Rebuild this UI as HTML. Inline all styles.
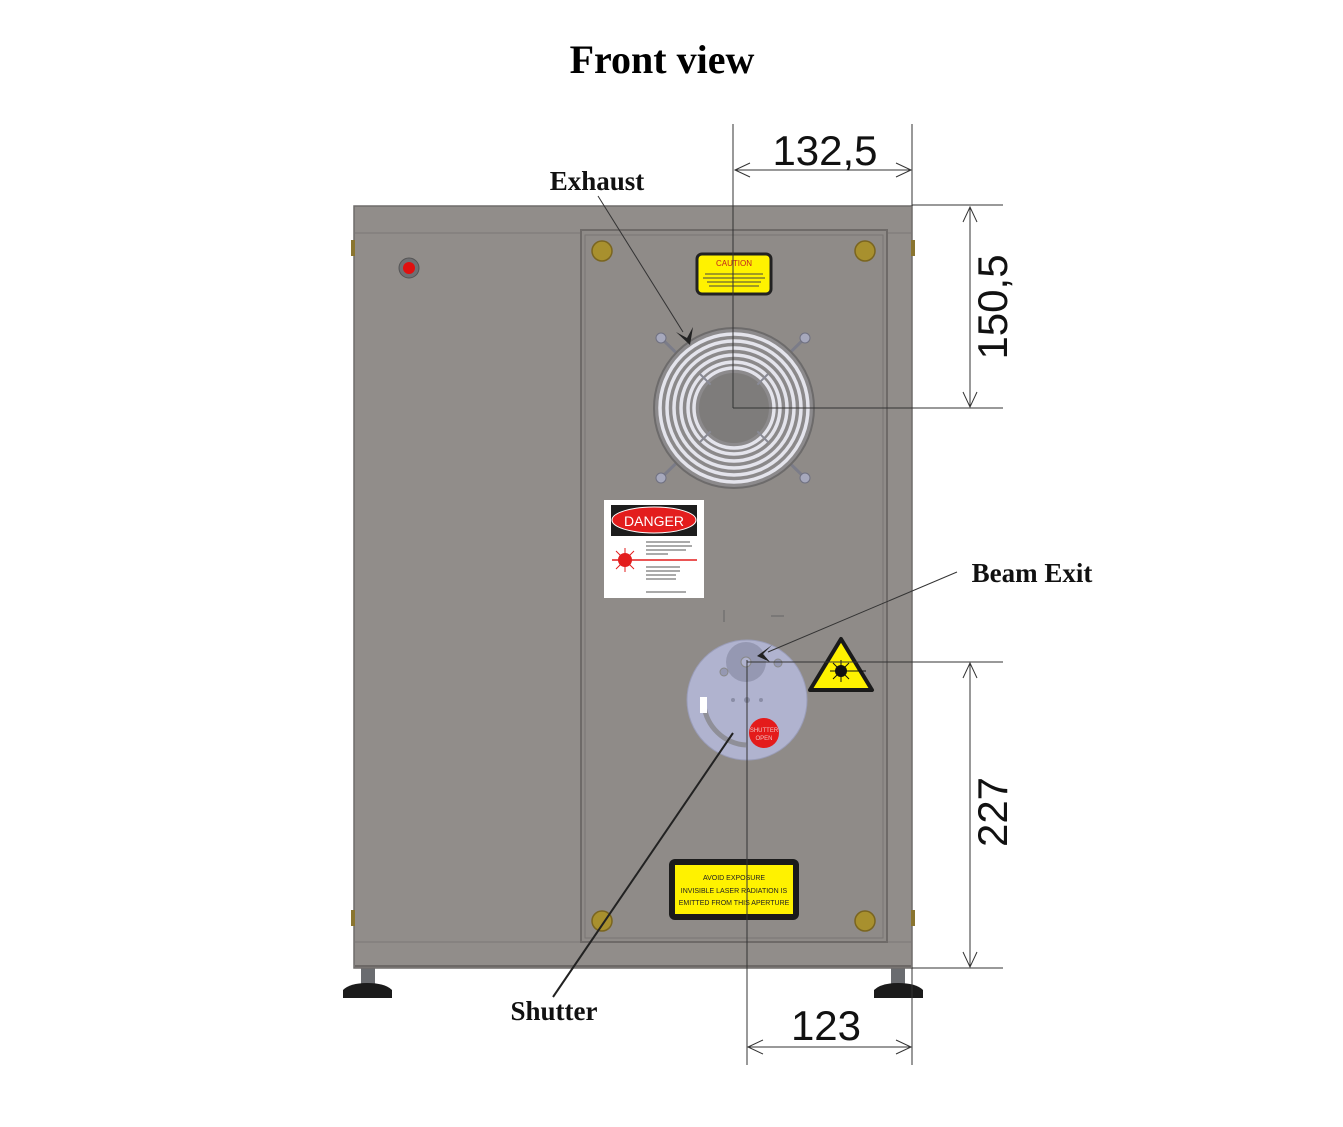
<!DOCTYPE html>
<html><head><meta charset="utf-8"><style>html,body{margin:0;padding:0;background:#fff}svg{display:block}</style></head><body>
<svg width="1343" height="1127" viewBox="0 0 1343 1127" xmlns="http://www.w3.org/2000/svg">
<rect width="1343" height="1127" fill="#fff"/>
<text x="662" y="73" text-anchor="middle" font-family="Liberation Serif" font-weight="bold" font-size="40">Front view</text>
<!-- feet -->
<rect x="361" y="966" width="14" height="20" fill="#6a6c70"/>
<path d="M343 998 L343 990 Q350 983 367 983 Q385 983 392 990 L392 998 Z" fill="#1b1b1b"/>
<rect x="891" y="966" width="14" height="20" fill="#6a6c70"/>
<path d="M874 998 L874 990 Q881 983 898 983 Q916 983 923 990 L923 998 Z" fill="#1b1b1b"/>
<!-- cabinet -->
<rect x="354" y="206" width="558" height="762" fill="#918d8a" stroke="#6f6c6a" stroke-width="1.5"/>
<line x1="355" y1="233" x2="911" y2="233" stroke="#7c7876" stroke-width="1"/>
<line x1="355" y1="942" x2="911" y2="942" stroke="#7c7876" stroke-width="1"/>
<line x1="355" y1="966" x2="911" y2="966" stroke="#6c6866" stroke-width="2"/>
<rect x="581" y="230" width="306" height="712" fill="#8f8b88" stroke="#6e6a68" stroke-width="2"/>
<rect x="585" y="235" width="298" height="703" fill="none" stroke="#7a7673" stroke-width="1"/>
<rect x="351" y="240" width="4" height="16" fill="#8a7530"/>
<rect x="911" y="240" width="4" height="16" fill="#8a7530"/>
<rect x="351" y="910" width="4" height="16" fill="#8a7530"/>
<rect x="911" y="910" width="4" height="16" fill="#8a7530"/>
<!-- LED -->
<circle cx="409" cy="268" r="10" fill="#6f6f73" stroke="#555" stroke-width="1"/>
<circle cx="409" cy="268" r="6" fill="#e01010"/>
<!-- brass screws -->
<g fill="#a8902e" stroke="#7a6520" stroke-width="1.5">
<circle cx="602" cy="251" r="10"/><circle cx="865" cy="251" r="10"/>
<circle cx="602" cy="921" r="10"/><circle cx="865" cy="921" r="10"/>
</g>
<!-- caution label -->
<rect x="697" y="254" width="74" height="40" rx="5" fill="#fff200" stroke="#222" stroke-width="3"/>
<text x="734" y="266" text-anchor="middle" font-family="Liberation Sans" font-size="8" fill="#c02020">CAUTION</text>
<g stroke="#444" stroke-width="1"><line x1="705" y1="274" x2="763" y2="274"/><line x1="703" y1="278" x2="765" y2="278"/><line x1="707" y1="282" x2="761" y2="282"/><line x1="709" y1="286" x2="759" y2="286"/></g>
<!-- fan -->
<g stroke="#7b7c88" stroke-width="3" stroke-linecap="round">
<line x1="661" y1="338" x2="805" y2="478"/><line x1="805" y1="338" x2="661" y2="478"/>
</g>
<circle cx="734" cy="408" r="80" fill="#8c8a8c" stroke="#6d6b6b" stroke-width="2"/>
<g fill="none" stroke="#e4e4ec" stroke-width="3.5">
<circle cx="734" cy="408" r="74"/><circle cx="734" cy="408" r="67"/><circle cx="734" cy="408" r="60"/><circle cx="734" cy="408" r="53"/><circle cx="734" cy="408" r="46"/><circle cx="734" cy="408" r="40"/>
</g>
<g fill="none" stroke="#8a8888" stroke-width="1">
<circle cx="734" cy="408" r="70"/><circle cx="734" cy="408" r="63"/><circle cx="734" cy="408" r="56"/><circle cx="734" cy="408" r="49"/>
</g>
<circle cx="734" cy="408" r="35" fill="#7e7c7b"/>
<g stroke="#8a8b96" stroke-width="2"><line x1="700" y1="374" x2="768" y2="442"/><line x1="768" y1="374" x2="700" y2="442"/></g>
<circle cx="734" cy="408" r="33" fill="#7e7c7b"/>
<g fill="#a6a8bc" stroke="#6f7080"><circle cx="661" cy="338" r="5"/><circle cx="805" cy="338" r="5"/><circle cx="661" cy="478" r="5"/><circle cx="805" cy="478" r="5"/></g>
<!-- danger label -->
<rect x="604" y="500" width="100" height="98" fill="#fff"/>
<rect x="611" y="505" width="86" height="31" fill="#1d1d1d"/>
<ellipse cx="654" cy="520" rx="42" ry="13" fill="#e31d1d" stroke="#fff" stroke-width="1"/>
<text x="654" y="526" text-anchor="middle" font-family="Liberation Sans" font-size="14" fill="#fff">DANGER</text>
<line x1="612" y1="560" x2="697" y2="560" stroke="#e31d1d" stroke-width="1.5"/>
<circle cx="625" cy="560" r="7" fill="#e31d1d"/>
<g stroke="#e31d1d" stroke-width="1"><line x1="613" y1="560" x2="637" y2="560"/><line x1="625" y1="548" x2="625" y2="572"/><line x1="616" y1="551" x2="634" y2="569"/><line x1="634" y1="551" x2="616" y2="569"/></g>
<g stroke="#555" stroke-width="1"><line x1="646" y1="542" x2="690" y2="542"/><line x1="646" y1="546" x2="692" y2="546"/><line x1="646" y1="550" x2="686" y2="550"/><line x1="646" y1="554" x2="668" y2="554"/><line x1="646" y1="567" x2="680" y2="567"/><line x1="646" y1="571" x2="680" y2="571"/><line x1="646" y1="575" x2="676" y2="575"/><line x1="646" y1="579" x2="676" y2="579"/><line x1="646" y1="592" x2="686" y2="592"/></g>
<g stroke="#666" stroke-width="1"><line x1="724" y1="610" x2="724" y2="622"/><line x1="771" y1="616" x2="784" y2="616"/></g>
<!-- shutter disc -->
<circle cx="747" cy="700" r="60" fill="#b0b3cf" stroke="#9a9db8"/>
<circle cx="746" cy="662" r="20" fill="#9598b2"/>
<circle cx="746" cy="662" r="5" fill="#b0b3cf" stroke="#888"/>
<circle cx="724" cy="672" r="4" fill="#9598b2" stroke="#888"/>
<circle cx="778" cy="663" r="4" fill="#9598b2" stroke="#888"/>
<circle cx="747" cy="700" r="3" fill="#8a8da6"/><circle cx="733" cy="700" r="2" fill="#8a8da6"/><circle cx="761" cy="700" r="2" fill="#8a8da6"/>
<path d="M704 705 A45 45 0 0 0 746 745" fill="none" stroke="#8f8f98" stroke-width="5"/>
<rect x="700" y="697" width="7" height="16" fill="#fff"/>
<circle cx="764" cy="733" r="15" fill="#e41b1b"/>
<text x="764" y="732" text-anchor="middle" font-family="Liberation Sans" font-size="6" fill="#f0c0c0">SHUTTER</text>
<text x="764" y="740" text-anchor="middle" font-family="Liberation Sans" font-size="6" fill="#f0c0c0">OPEN</text>
<!-- warning triangle -->
<path d="M841 639 L872 690 L810 690 Z" fill="#fff200" stroke="#1a1a1a" stroke-width="4" stroke-linejoin="round"/>
<circle cx="841" cy="671" r="6" fill="#111"/>
<g stroke="#111" stroke-width="1"><line x1="830" y1="671" x2="866" y2="671"/><line x1="841" y1="660" x2="841" y2="682"/><line x1="833" y1="663" x2="849" y2="679"/><line x1="849" y1="663" x2="833" y2="679"/></g>
<!-- bottom label -->
<rect x="669" y="859" width="130" height="61" rx="6" fill="#1b1b1b"/>
<rect x="675" y="865" width="118" height="49" fill="#fff200"/>
<g font-family="Liberation Sans" font-size="7" text-anchor="middle" fill="#222">
<text x="734" y="880">AVOID EXPOSURE</text><text x="734" y="893">INVISIBLE LASER RADIATION IS</text><text x="734" y="905">EMITTED FROM THIS APERTURE</text></g>
<!-- dimension lines -->
<g stroke="#333" stroke-width="1" fill="none">
<line x1="733" y1="124" x2="733" y2="408"/><line x1="912" y1="124" x2="912" y2="206"/>
<line x1="733" y1="408" x2="1003" y2="408"/><line x1="912" y1="205" x2="1003" y2="205"/>
<line x1="735" y1="170" x2="911" y2="170"/>
<path d="M750 163 L735 170 L750 177 M896 163 L911 170 L896 177"/>
<line x1="970" y1="207" x2="970" y2="407"/>
<path d="M963 222 L970 207 L977 222 M963 392 L970 407 L977 392"/>
<line x1="747" y1="662" x2="1003" y2="662"/><line x1="912" y1="968" x2="1003" y2="968"/>
<line x1="970" y1="663" x2="970" y2="967"/>
<path d="M963 678 L970 663 L977 678 M963 952 L970 967 L977 952"/>
<line x1="747" y1="660" x2="747" y2="1065"/><line x1="912" y1="968" x2="912" y2="1065"/>
<line x1="748" y1="1047" x2="911" y2="1047"/>
<path d="M763 1040 L748 1047 L763 1054 M896 1040 L911 1047 L896 1054"/>
<line x1="598" y1="196" x2="683" y2="332"/>
<line x1="957" y1="572" x2="768" y2="652"/>
</g>
<line x1="553" y1="997" x2="733" y2="733" stroke="#222" stroke-width="2"/>
<path d="M676 332 L690 345 L693 327 L687 338 Z" fill="#222"/>
<path d="M772 645 L757 656 L770 662 L763 654 Z" fill="#222"/>
<g font-family="Liberation Sans" font-size="42" fill="#111" text-anchor="middle">
<text x="825" y="165">132,5</text>
<text x="826" y="1040">123</text>
<text transform="translate(1007,307) rotate(-90)">150,5</text>
<text transform="translate(1007,812) rotate(-90)">227</text>
</g>
<g font-family="Liberation Serif" font-weight="bold" font-size="27" fill="#111" text-anchor="middle">
<text x="597" y="190">Exhaust</text>
<text x="1032" y="582">Beam Exit</text>
<text x="554" y="1020">Shutter</text>
</g>
</svg>
</body></html>
